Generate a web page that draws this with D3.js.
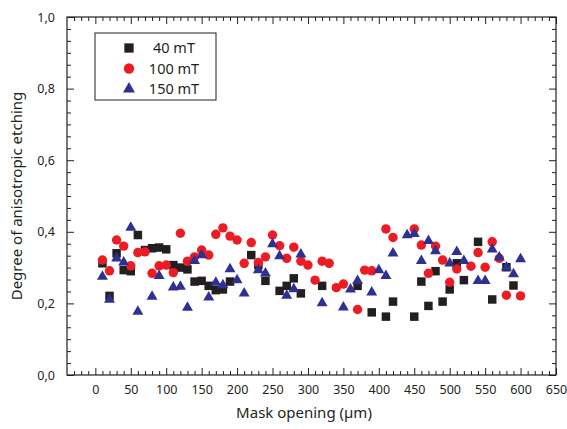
<!DOCTYPE html>
<html>
<head>
<meta charset="utf-8">
<script src="https://cdn.jsdelivr.net/npm/d3@7"></script>
<style>
  body { margin: 0; background: #fff; }
  text { font-family: "Noto Sans", "Open Sans", sans-serif; fill: #231f20; }
</style>
</head>
<body>
<div id="chart"></div>
<script>
// 40 mT
var x40 = [10,20,30,40,50,60,70,80,90,100,110,120,130,140,150,160,170,180,190,220,230,240,260,270,280,290,320,370,390,410,420,450,460,470,480,490,500,510,520,540,560,580,590];
var y40 = [0.312,0.221,0.340,0.293,0.290,0.391,0.349,0.354,0.356,0.351,0.307,0.300,0.295,0.261,0.263,0.249,0.237,0.239,0.261,0.335,0.307,0.263,0.235,0.249,0.270,0.228,0.249,0.249,0.175,0.163,0.205,0.163,0.261,0.193,0.290,0.205,0.239,0.312,0.265,0.372,0.211,0.301,0.250];
// 100 mT
var x100 = [10,20,30,40,50,60,70,80,90,100,110,120,130,140,150,160,170,180,190,200,210,220,230,240,250,260,270,280,290,300,310,320,330,340,350,370,380,390,410,420,450,460,470,480,490,500,510,530,540,550,560,570,580,600];
var y100 = [0.321,0.291,0.377,0.360,0.305,0.342,0.344,0.284,0.305,0.307,0.286,0.396,0.318,0.330,0.349,0.335,0.393,0.411,0.388,0.377,0.312,0.370,0.314,0.330,0.391,0.361,0.326,0.357,0.318,0.307,0.265,0.318,0.312,0.244,0.254,0.183,0.293,0.291,0.408,0.384,0.408,0.363,0.284,0.360,0.321,0.259,0.296,0.304,0.342,0.301,0.372,0.326,0.223,0.221];
// 150 mT
var x150 = [10,20,30,40,50,60,80,90,110,120,130,140,150,160,170,180,190,200,210,230,240,250,260,270,280,290,320,350,360,370,390,400,410,420,440,450,460,470,480,500,510,520,540,550,560,570,580,590,600];
var y150 = [0.275,0.211,0.326,0.315,0.412,0.177,0.219,0.277,0.245,0.247,0.188,0.319,0.335,0.217,0.258,0.251,0.296,0.265,0.228,0.293,0.284,0.366,0.332,0.222,0.240,0.337,0.201,0.189,0.239,0.263,0.231,0.293,0.277,0.340,0.391,0.394,0.319,0.375,0.346,0.312,0.344,0.319,0.263,0.263,0.351,0.329,0.301,0.282,0.324];

var xTicks = d3.range(0, 651, 50);
var yTicks = [0, 0.2, 0.4, 0.6, 0.8, 1.0];

var W = 567, H = 429;
var pLeft = 67, pRight = 556, pTop = 17, pBottom = 375;

var svg = d3.select("#chart").append("svg").attr("width", W).attr("height", H);

var x = d3.scaleLinear().domain([-40, 650]).range([pLeft, pRight]);
var y = d3.scaleLinear().domain([0, 1]).range([pBottom, pTop]);

var fmt = function(d){ return d3.format(".1f")(d).replace(".", ","); };

// minor ticks: every 10 on x, 6 steps per 0.2 on y
var xMinor = d3.range(-30, 651, 10).filter(function(d){ return d % 50 != 0; });
var yMinor = d3.range(0, 31).filter(function(i){ return i % 6 != 0; }).map(function(i){ return i / 30; });

function styleAxis(g) {
    g.select(".domain").remove();
    g.selectAll("line").attr("stroke", "#231f20").attr("stroke-width", 1);
}
function styleLabels(g) {
    g.selectAll("text").attr("font-size", 12.5).attr("fill", "#231f20");
}

svg.append("g").attr("transform", "translate(0," + pBottom + ")")
    .call(d3.axisBottom(x).tickValues(xTicks).tickSize(-7).tickPadding(10).tickFormat(d3.format("d")))
    .call(styleAxis).call(styleLabels);
svg.append("g").attr("transform", "translate(0," + pBottom + ")")
    .call(d3.axisBottom(x).tickValues(xMinor).tickSize(-4).tickFormat(""))
    .call(styleAxis);
svg.append("g").attr("transform", "translate(0," + pTop + ")")
    .call(d3.axisTop(x).tickValues(xTicks).tickSize(-7).tickFormat(""))
    .call(styleAxis);
svg.append("g").attr("transform", "translate(0," + pTop + ")")
    .call(d3.axisTop(x).tickValues(xMinor).tickSize(-4).tickFormat(""))
    .call(styleAxis);

svg.append("g").attr("transform", "translate(" + pLeft + ",0)")
    .call(d3.axisLeft(y).tickValues(yTicks).tickSize(-7).tickPadding(12).tickFormat(fmt))
    .call(styleAxis).call(styleLabels);
svg.append("g").attr("transform", "translate(" + pLeft + ",0)")
    .call(d3.axisLeft(y).tickValues(yMinor).tickSize(-4).tickFormat(""))
    .call(styleAxis);
svg.append("g").attr("transform", "translate(" + pRight + ",0)")
    .call(d3.axisRight(y).tickValues(yTicks).tickSize(-7).tickFormat(""))
    .call(styleAxis);
svg.append("g").attr("transform", "translate(" + pRight + ",0)")
    .call(d3.axisRight(y).tickValues(yMinor).tickSize(-4).tickFormat(""))
    .call(styleAxis);

svg.append("rect")
    .attr("x", pLeft).attr("y", pTop)
    .attr("width", pRight - pLeft).attr("height", pBottom - pTop)
    .attr("fill", "none").attr("stroke", "#231f20").attr("stroke-width", 1.2);

// series, squares first then circles then triangles
var series = [
    {name: "40 mT", xs: x40, ys: y40, shape: d3.symbolSquare, size: 72, color: "#231f20"},
    {name: "100 mT", xs: x100, ys: y100, shape: d3.symbolCircle, size: 70, color: "#ed1c24"},
    {name: "150 mT", xs: x150, ys: y150, shape: d3.symbolTriangle, size: 52, color: "#2e3192"}
];

series.forEach(function(s){
    var pts = s.xs.map(function(v, i){ return {x: v, y: s.ys[i]}; });
    svg.append("g").selectAll("path")
        .data(pts)
        .enter()
        .append("path")
        .attr("d", d3.symbol().type(s.shape).size(s.size))
        .attr("transform", function(d){ return "translate(" + x(d.x) + "," + y(d.y) + ")"; })
        .attr("fill", s.color);
});

// legend
var lg = svg.append("g");
lg.append("rect").attr("x", 95).attr("y", 33).attr("width", 121).attr("height", 67)
    .attr("fill", "#fff").attr("stroke", "#231f20").attr("stroke-width", 1);
series.forEach(function(s, i){
    var cy = 48 + i * 20.5;
    lg.append("path")
        .attr("d", d3.symbol().type(s.shape).size(s.size * 1.2))
        .attr("transform", "translate(129," + cy + ")")
        .attr("fill", s.color);
    lg.append("text").attr("x", 174).attr("y", cy + 5)
        .attr("text-anchor", "middle").attr("font-size", 14.5).text(s.name);
});

// titles
svg.append("text").attr("x", 304).attr("y", 418).attr("text-anchor", "middle")
    .attr("font-size", 15).text("Mask opening (µm)");
svg.append("text").attr("transform", "translate(22,196) rotate(-90)").attr("text-anchor", "middle")
    .attr("font-size", 15).text("Degree of anisotropic etching");
</script>
</body>
</html>
